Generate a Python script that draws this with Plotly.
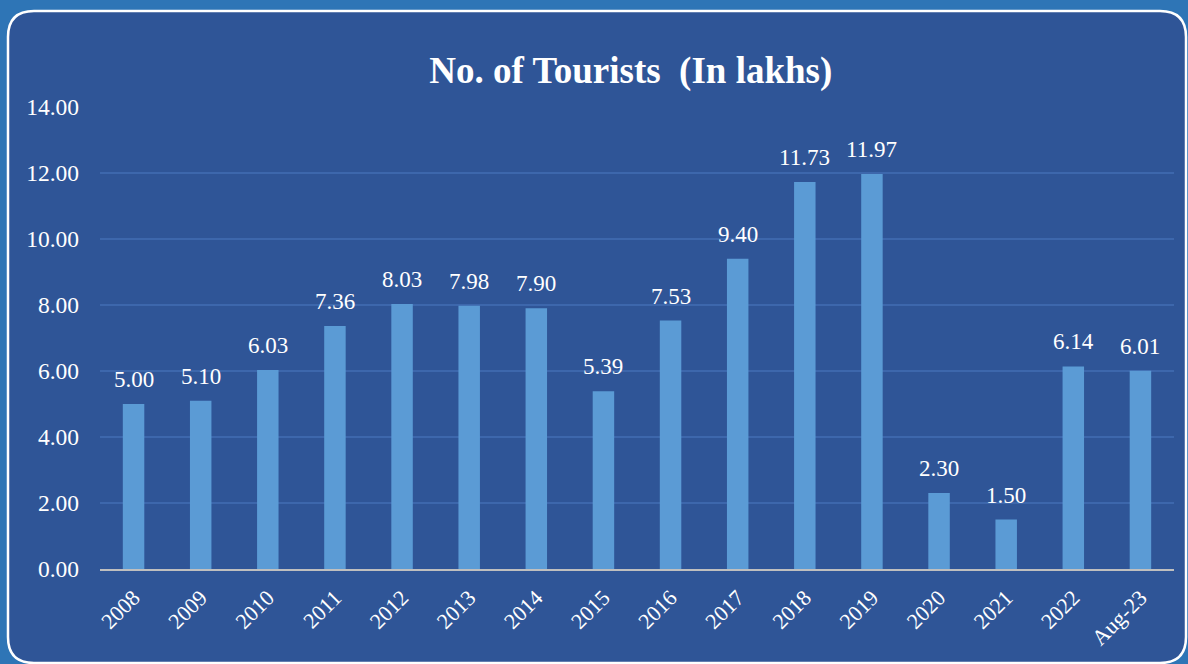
import plotly.graph_objects as go

years = ["2008", "2009", "2010", "2011", "2012", "2013", "2014", "2015",
         "2016", "2017", "2018", "2019", "2020", "2021", "2022", "Aug-23"]
tourists = [5.00, 5.10, 6.03, 7.36, 8.03, 7.98, 7.90, 5.39,
            7.53, 9.40, 11.73, 11.97, 2.30, 1.50, 6.14, 6.01]
y_ticks = [0, 2, 4, 6, 8, 10, 12, 14]

W, H = 1188, 664
L, R, T, B = 100, 14, 107, 95
font = "Liberation Serif, Times New Roman, serif"


def px(x):
    return (x - L) / (W - L - R)


def py(y):
    return (H - B - y) / (H - T - B)


# rounded panel behind the chart
x0, y0, x1, y1, r = 8, 11, 1186, 663, 26
panel = (f"M {px(x0 + r)} {py(y0)} L {px(x1 - r)} {py(y0)} "
         f"Q {px(x1)} {py(y0)} {px(x1)} {py(y0 + r)} "
         f"L {px(x1)} {py(y1 - r)} Q {px(x1)} {py(y1)} {px(x1 - r)} {py(y1)} "
         f"L {px(x0 + r)} {py(y1)} Q {px(x0)} {py(y1)} {px(x0)} {py(y1 - r)} "
         f"L {px(x0)} {py(y0 + r)} Q {px(x0)} {py(y0)} {px(x0 + r)} {py(y0)} Z")

fig = go.Figure(go.Bar(x=years, y=tourists, marker_color="#5B9BD5",
                       marker_line_width=0))

# value labels (x given as category index so "2008" is not read as a number)
for i, v in enumerate(tourists):
    fig.add_annotation(x=i, y=v, text=f"{v:.2f}", showarrow=False,
                       yanchor="bottom", yshift=10,
                       font=dict(family=font, size=23, color="white"))

fig.update_layout(
    width=W, height=H,
    margin=dict(l=L, r=R, t=T, b=B),
    paper_bgcolor="#2E75B6",
    plot_bgcolor="rgba(0,0,0,0)",
    bargap=0.68,
    showlegend=False,
    title=dict(text="<b>No. of Tourists  (In lakhs)</b>", x=0.531, xanchor="center",
               y=1 - 70 / H, yanchor="middle",
               font=dict(family=font, size=37, color="white")),
    shapes=[dict(type="path", path=panel, xref="paper", yref="paper",
                 fillcolor="#2F5597", line=dict(color="white", width=2.5),
                 layer="below")],
)
fig.update_xaxes(type="category", tickangle=-45,
                 tickfont=dict(family=font, size=22, color="white"),
                 showline=True, linecolor="#BFBFBF", linewidth=2, ticks="",
                 ticklabelstandoff=5)
fig.update_yaxes(range=[0, 14], tickvals=y_ticks, tickformat=".2f",
                 tickfont=dict(family=font, size=23.5, color="white"),
                 gridcolor="#3D67AC", gridwidth=1.5, zeroline=False,
                 ticklabelstandoff=20)

fig.write_html("out.html", config={"displayModeBar": False},
               post_script="document.body.style.margin='0';")
